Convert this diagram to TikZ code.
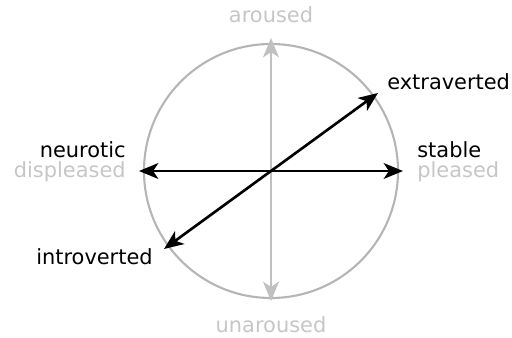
\documentclass[tikz,border=0pt]{standalone}
\usepackage{fontspec}
\setmainfont{DejaVu Sans}
\usetikzlibrary{arrows.meta}
\definecolor{RingGray}{HTML}{B5B5B5}
\definecolor{AxisGray}{HTML}{C0C0C0}
\definecolor{MoodGray}{HTML}{C6C6C6}
\tikzset{
  ring/.style={line width=1.2pt,draw=RingGray},
  trait/.style={{Stealth[length=11pt,width=9pt,inset=3pt]}-{Stealth[length=11pt,width=9pt,inset=3pt]},
                line width=1.5pt,color=black},
  mood/.style={trait,color=AxisGray},
  lbl/.style={font=\fontsize{11.9}{14}\selectfont,inner sep=0pt,text=black},
  moodlbl/.style={lbl,text=MoodGray},
}

\begin{document}
\begin{tikzpicture}[x=0.02cm,y=-0.02cm]
  \useasboundingbox (0,0) rectangle (512,338);

  \coordinate (c)     at (271,171);
  \coordinate (up)    at (271,38);
  \coordinate (down)  at (271,301);
  \coordinate (left)  at (139,171);
  \coordinate (right) at (403,171);
  \coordinate (ext)   at (378,93);
  \coordinate (intro) at (164,249);

  \draw[ring] (c) circle[radius=127];

  \draw[mood]  (down) -- (up);
  \draw[trait] (left) -- (right);
  \draw[trait] (intro) -- (ext);

  \node[moodlbl,anchor=base]      (aroused)    at (271,23)  {aroused};
  \node[moodlbl,anchor=base]      (unaroused)  at (271,333) {unaroused};
  \node[lbl,anchor=base west]     (extra)      at (387,90)  {extraverted};
  \node[lbl,anchor=base west]     (stable)     at (417,158) {stable};
  \node[moodlbl,anchor=base west] (pleased)    at (417,177) {pleased};
  \node[lbl,anchor=base east]     (neurotic)   at (126,158) {neurotic};
  \node[moodlbl,anchor=base east] (displeased) at (126,177) {displeased};
  \node[lbl,anchor=base east]     (introvert)  at (153,265) {introverted};
\end{tikzpicture}
\end{document}
